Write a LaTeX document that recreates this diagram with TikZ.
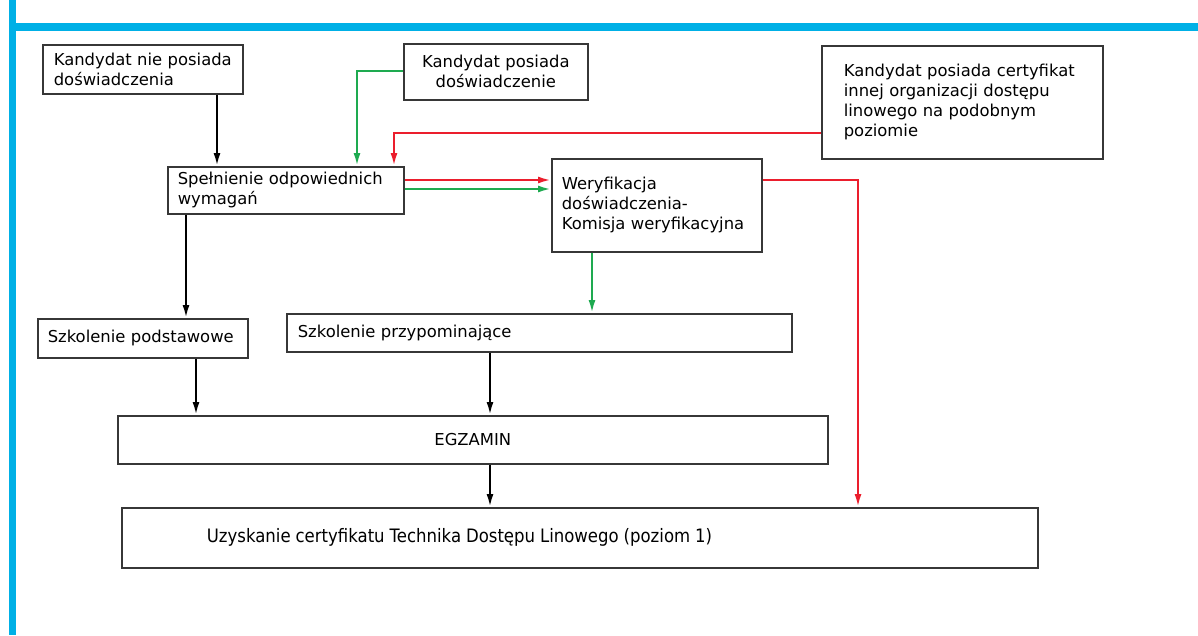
\documentclass[tikz,border=0pt]{standalone}
\usepackage{fontspec}
\setmainfont{DejaVu Sans}
\usetikzlibrary{arrows.meta}
\definecolor{frameblue}{RGB}{0,176,230}
\definecolor{boxgray}{RGB}{55,55,55}
\definecolor{arrred}{RGB}{235,30,45}
\definecolor{arrgreen}{RGB}{30,170,80}
\tikzset{
  box/.style={draw=boxgray, line width=1.6pt, anchor=north west, inner ysep=0pt,
    font=\fontsize{16.4}{20}\selectfont, align=left},
  conn/.style={line width=2.2pt, -{Latex[length=13pt,width=7pt]}},
  blkarr/.style={conn, draw=black},
  redarr/.style={conn, draw=arrred},
  grnarr/.style={conn, draw=arrgreen},
}
\begin{document}
\begin{tikzpicture}[x=1pt,y=-1pt]
\useasboundingbox (0,0) rectangle (1198,635);
\fill[white] (0,0) rectangle (1198,635);
% frame
\fill[frameblue] (9,0) rectangle (16,635);
\fill[frameblue] (16,23) rectangle (1198,31);
% boxes
\node[box, text width=178pt, inner xsep=11pt, minimum height=49pt] (b1) at (42,44) {Kandydat nie posiada\\doświadczenia};
\node[box, align=center, text width=170pt, inner xsep=7pt, minimum height=56pt] (b2) at (403,43) {Kandydat posiada\\doświadczenie};
\node[box, text width=237pt, inner xsep=22pt, minimum height=113pt] (b3) at (821,45) {Kandydat posiada certyfikat\\innej organizacji dostępu\\linowego na podobnym\\poziomie};
\node[box, text width=216pt, inner xsep=10pt, minimum height=47pt] (b4) at (167,166) {Spełnienie odpowiednich\\wymagań};
\node[box, text width=190pt, inner xsep=10pt, minimum height=93pt] (b5) at (551,158) {Weryfikacja\\doświadczenia-\\Komisja weryfikacyjna};
\node[box, text width=190pt, inner xsep=10pt, minimum height=39pt] (b6) at (37,318) {Szkolenie podstawowe};
\node[box, text width=483pt, inner xsep=11pt, minimum height=38pt] (b7) at (286,313) {Szkolenie przypominające};
\node[box, align=center, text width=696pt, inner xsep=7pt, minimum height=48pt] (b8) at (117,415) {EGZAMIN};
\node[box, text width=746pt, inner xsep=85pt, minimum height=60pt] (b9) at (121,507) {\fontsize{18.5}{20}\selectfont\scalebox{0.894}[1]{Uzyskanie certyfikatu Technika Dostępu Linowego (poziom 1)}};
% connector corners
\coordinate (g1) at (357,71);
\coordinate (r1) at (394,133);
\coordinate (r2) at (858,180);
% connectors
\draw[blkarr] (b1.south -| 217,0) -- (b4.north -| 217,0);
\draw[grnarr] (b2.west |- g1) -- (g1) -- (b4.north -| g1);
\draw[redarr] (b3.west |- r1) -- (r1) -- (b4.north -| r1);
\draw[redarr] (b4.east |- 0,180) -- (b5.west |- 0,180);
\draw[grnarr] (b4.east |- 0,189) -- (b5.west |- 0,189);
\draw[redarr] (b5.east |- r2) -- (r2) -- (b9.north -| r2);
\draw[grnarr] (b5.south -| 592,0) -- (b7.north -| 592,0);
\draw[blkarr] (b4.south -| 186,0) -- (b6.north -| 186,0);
\draw[blkarr] (b6.south -| 196,0) -- (b8.north -| 196,0);
\draw[blkarr] (b7.south -| 490,0) -- (b8.north -| 490,0);
\draw[blkarr] (b8.south -| 490,0) -- (b9.north -| 490,0);
\end{tikzpicture}
\end{document}
